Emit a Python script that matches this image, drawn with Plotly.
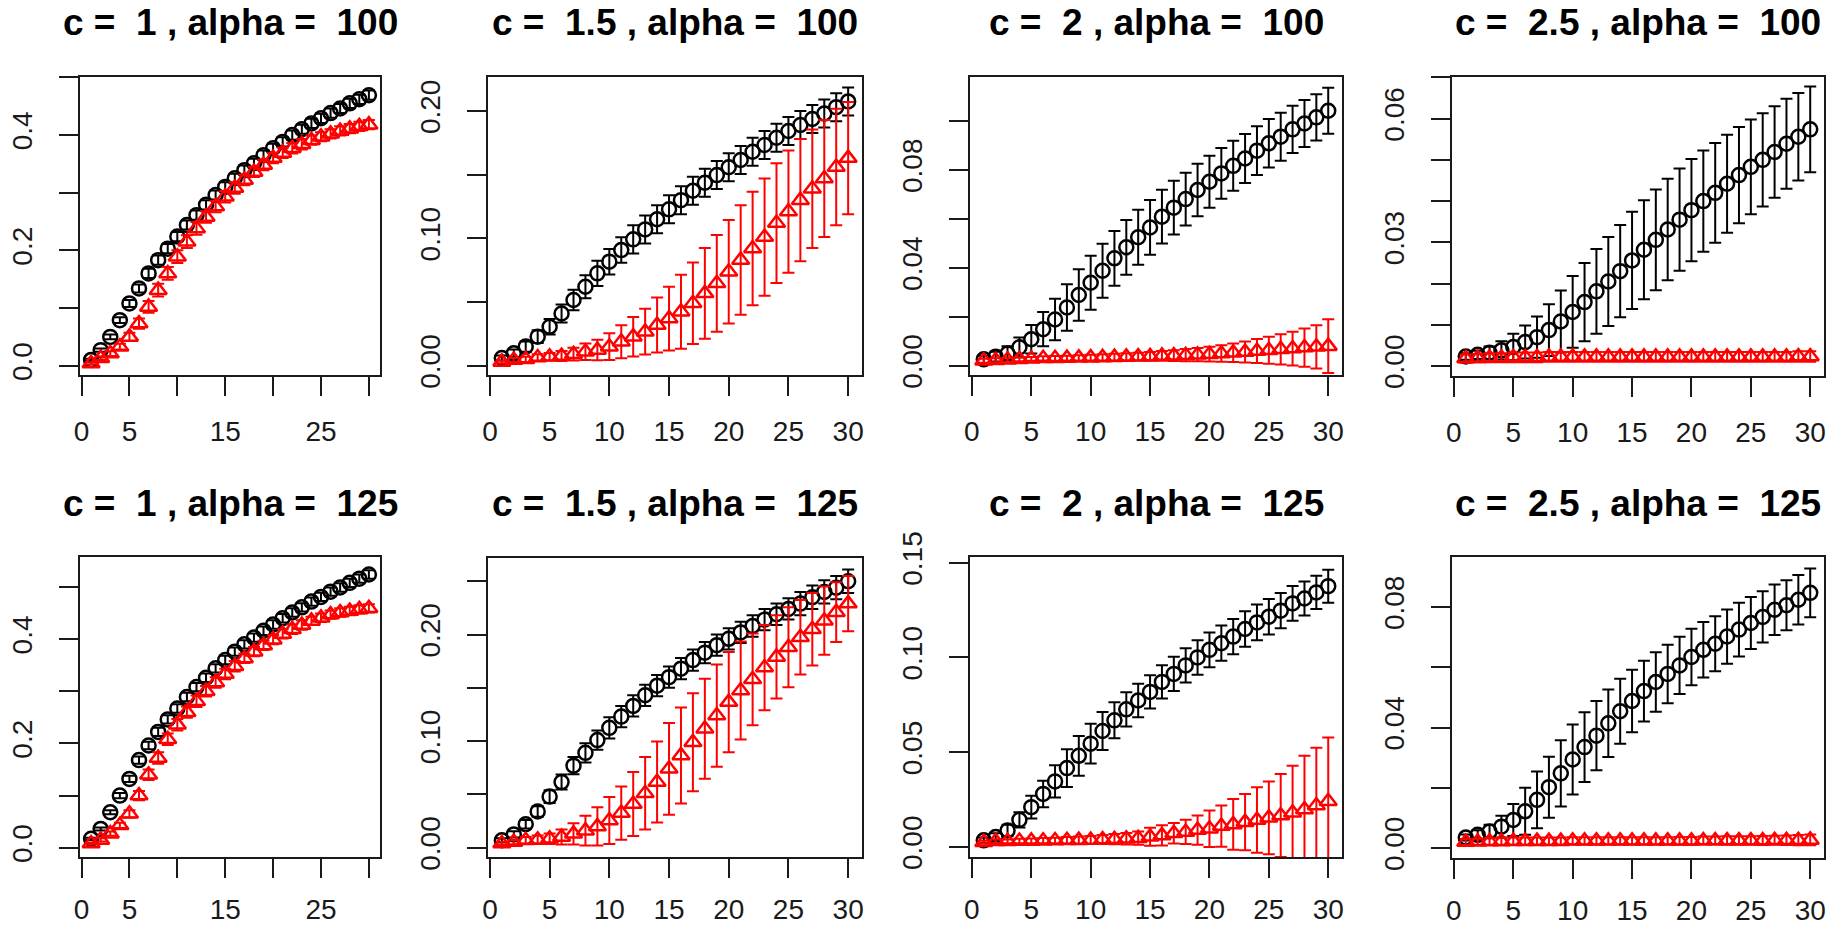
import plotly.graph_objects as go

# time steps shared by every panel
steps = [1, 2, 3, 4, 5, 6, 7, 8, 9, 10, 11, 12, 13, 14, 15,
         16, 17, 18, 19, 20, 21, 22, 23, 24, 25, 26, 27, 28, 29, 30]

c_labels = ["1", "1.5", "2", "2.5"]
alpha_labels = ["100", "125"]

# ---- alpha = 100 -------------------------------------------------------
black_c1_a100 = [0.010, 0.027, 0.050, 0.079, 0.108, 0.134, 0.160, 0.183, 0.203, 0.224,
                 0.244, 0.261, 0.279, 0.296, 0.310, 0.325, 0.339, 0.351, 0.365, 0.377,
                 0.388, 0.400, 0.410, 0.420, 0.429, 0.438, 0.446, 0.455, 0.462, 0.469]
black_se_c1_a100 = [0.002, 0.003, 0.004, 0.005, 0.006, 0.007, 0.008, 0.008, 0.008, 0.008,
                    0.008, 0.008, 0.008, 0.008, 0.008, 0.008, 0.008, 0.008, 0.008, 0.008,
                    0.008, 0.008, 0.008, 0.008, 0.008, 0.008, 0.008, 0.008, 0.008, 0.008]
red_c1_a100 = [0.004, 0.013, 0.021, 0.033, 0.050, 0.073, 0.102, 0.131, 0.160, 0.189,
               0.215, 0.238, 0.258, 0.276, 0.293, 0.308, 0.322, 0.336, 0.348, 0.360,
               0.369, 0.377, 0.384, 0.391, 0.397, 0.402, 0.407, 0.411, 0.415, 0.418]
red_se_c1_a100 = [0.002, 0.003, 0.004, 0.005, 0.007, 0.009, 0.010, 0.011, 0.011, 0.011,
                  0.011, 0.011, 0.010, 0.010, 0.010, 0.010, 0.009, 0.009, 0.009, 0.009,
                  0.009, 0.009, 0.009, 0.008, 0.008, 0.008, 0.008, 0.008, 0.008, 0.008]

black_c15_a100 = [0.0060, 0.0097, 0.0150, 0.0228, 0.0306, 0.0410, 0.0516, 0.0620, 0.0725, 0.0817,
                  0.0908, 0.0992, 0.1070, 0.1150, 0.1228, 0.1300, 0.1374, 0.1437, 0.1497, 0.1558,
                  0.1615, 0.1680, 0.1733, 0.1790, 0.1843, 0.1890, 0.1937, 0.1980, 0.2030, 0.2075]
black_se_c15_a100 = [0.002, 0.003, 0.004, 0.005, 0.006, 0.007, 0.008, 0.009, 0.010, 0.010,
                     0.010, 0.011, 0.011, 0.011, 0.011, 0.011, 0.011, 0.011, 0.011, 0.011,
                     0.011, 0.011, 0.011, 0.011, 0.011, 0.011, 0.011, 0.011, 0.011, 0.011]
red_c15_a100 = [0.0030, 0.0045, 0.0050, 0.0065, 0.0070, 0.0076, 0.0090, 0.0110, 0.0123, 0.0149,
                0.0188, 0.0228, 0.0267, 0.0320, 0.0370, 0.0424, 0.0490, 0.0568, 0.0647, 0.0738,
                0.0830, 0.0920, 0.1010, 0.1120, 0.1210, 0.1300, 0.1390, 0.1470, 0.1560, 0.1630]
red_se_c15_a100 = [0.0010, 0.0015, 0.0020, 0.0025, 0.0030, 0.0040, 0.0050, 0.0065, 0.0080, 0.0105,
                   0.0130, 0.0155, 0.0180, 0.0216, 0.0250, 0.0290, 0.0320, 0.0356, 0.0380, 0.0406,
                   0.0430, 0.0445, 0.0460, 0.0470, 0.0480, 0.0480, 0.0465, 0.0460, 0.0458, 0.0440]

black_c2_a100 = [0.0026, 0.0037, 0.0050, 0.0075, 0.0108, 0.0149, 0.0189, 0.0238, 0.0289, 0.0339,
                 0.0388, 0.0439, 0.0484, 0.0525, 0.0565, 0.0609, 0.0646, 0.0681, 0.0718, 0.0752,
                 0.0786, 0.0817, 0.0847, 0.0879, 0.0909, 0.0936, 0.0966, 0.0990, 0.1015, 0.1042]
black_se_c2_a100 = [0.0015, 0.0020, 0.0030, 0.0040, 0.0058, 0.0070, 0.0085, 0.0095, 0.0105, 0.0110,
                    0.0110, 0.0112, 0.0112, 0.0112, 0.0112, 0.0110, 0.0110, 0.0108, 0.0107, 0.0106,
                    0.0104, 0.0102, 0.0100, 0.0100, 0.0099, 0.0098, 0.0097, 0.0096, 0.0095, 0.0094]
red_c2_a100 = [0.0020, 0.0022, 0.0024, 0.0026, 0.0028, 0.0030, 0.0030, 0.0031, 0.0032, 0.0033,
               0.0034, 0.0035, 0.0036, 0.0037, 0.0038, 0.0040, 0.0041, 0.0043, 0.0045, 0.0047,
               0.0050, 0.0053, 0.0056, 0.0060, 0.0063, 0.0067, 0.0070, 0.0074, 0.0077, 0.0080]
red_se_c2_a100 = [0.0008, 0.0008, 0.0008, 0.0008, 0.0008, 0.0009, 0.0010, 0.0010, 0.0011, 0.0012,
                  0.0013, 0.0014, 0.0015, 0.0016, 0.0018, 0.0020, 0.0022, 0.0025, 0.0027, 0.0030,
                  0.0034, 0.0038, 0.0043, 0.0049, 0.0055, 0.0062, 0.0069, 0.0078, 0.0088, 0.0110]

black_c25_a100 = [0.0023, 0.0027, 0.0032, 0.0038, 0.0046, 0.0058, 0.0070, 0.0087, 0.0108, 0.0131,
                  0.0155, 0.0181, 0.0205, 0.0230, 0.0256, 0.0282, 0.0306, 0.0331, 0.0355, 0.0378,
                  0.0400, 0.0420, 0.0442, 0.0463, 0.0483, 0.0500, 0.0519, 0.0539, 0.0556, 0.0574]
black_se_c25_a100 = [0.0008, 0.0010, 0.0015, 0.0022, 0.0032, 0.0040, 0.0050, 0.0063, 0.0075, 0.0087,
                     0.0095, 0.0103, 0.0108, 0.0112, 0.0118, 0.0120, 0.0122, 0.0123, 0.0124, 0.0124,
                     0.0123, 0.0121, 0.0119, 0.0117, 0.0115, 0.0113, 0.0111, 0.0109, 0.0106, 0.0104]
red_c25_a100 = [0.0018, 0.0019, 0.0020, 0.0020, 0.0021, 0.0021, 0.0021, 0.0022, 0.0022, 0.0022,
                0.0022, 0.0022, 0.0022, 0.0022, 0.0022, 0.0022, 0.0022, 0.0022, 0.0022, 0.0022,
                0.0022, 0.0022, 0.0022, 0.0022, 0.0022, 0.0022, 0.0022, 0.0022, 0.0023, 0.0023]
red_se_c25_a100 = [0.0010, 0.0010, 0.0011, 0.0011, 0.0012, 0.0012, 0.0012, 0.0012, 0.0012, 0.0012,
                   0.0012, 0.0012, 0.0012, 0.0012, 0.0012, 0.0012, 0.0012, 0.0012, 0.0012, 0.0012,
                   0.0012, 0.0012, 0.0012, 0.0012, 0.0012, 0.0012, 0.0012, 0.0012, 0.0013, 0.0013]

# ---- alpha = 125 -------------------------------------------------------
black_c1_a125 = [0.017, 0.036, 0.068, 0.100, 0.132, 0.168, 0.196, 0.222, 0.246, 0.267,
                 0.289, 0.308, 0.326, 0.344, 0.360, 0.376, 0.390, 0.403, 0.416, 0.428,
                 0.440, 0.451, 0.461, 0.472, 0.481, 0.491, 0.499, 0.508, 0.516, 0.524]
black_se_c1_a125 = [0.002, 0.003, 0.004, 0.005, 0.006, 0.007, 0.007, 0.008, 0.008, 0.008,
                    0.008, 0.008, 0.008, 0.008, 0.008, 0.008, 0.008, 0.008, 0.008, 0.008,
                    0.008, 0.008, 0.008, 0.008, 0.008, 0.008, 0.008, 0.008, 0.008, 0.008]
red_c1_a125 = [0.008, 0.015, 0.027, 0.043, 0.065, 0.100, 0.140, 0.172, 0.208, 0.236,
               0.260, 0.281, 0.300, 0.317, 0.333, 0.348, 0.363, 0.376, 0.388, 0.399,
               0.410, 0.419, 0.427, 0.435, 0.441, 0.447, 0.451, 0.454, 0.457, 0.459]
red_se_c1_a125 = [0.002, 0.003, 0.004, 0.005, 0.007, 0.009, 0.010, 0.011, 0.011, 0.011,
                  0.011, 0.011, 0.010, 0.010, 0.010, 0.010, 0.009, 0.009, 0.009, 0.009,
                  0.009, 0.009, 0.009, 0.008, 0.008, 0.008, 0.008, 0.008, 0.008, 0.008]

black_c15_a125 = [0.0070, 0.0125, 0.0220, 0.0340, 0.0480, 0.0616, 0.0770, 0.0890, 0.1010, 0.1125,
                  0.1230, 0.1330, 0.1430, 0.1520, 0.1600, 0.1680, 0.1760, 0.1830, 0.1900, 0.1960,
                  0.2020, 0.2080, 0.2140, 0.2190, 0.2240, 0.2290, 0.2350, 0.2400, 0.2440, 0.2500]
black_se_c15_a125 = [0.002, 0.003, 0.004, 0.005, 0.006, 0.007, 0.008, 0.009, 0.009, 0.010,
                     0.010, 0.010, 0.010, 0.010, 0.010, 0.010, 0.010, 0.010, 0.010, 0.010,
                     0.010, 0.010, 0.010, 0.010, 0.010, 0.011, 0.011, 0.011, 0.011, 0.011]
red_c15_a125 = [0.0040, 0.0053, 0.0070, 0.0075, 0.0084, 0.0100, 0.0130, 0.0160, 0.0200, 0.0256,
                0.0325, 0.0410, 0.0510, 0.0616, 0.0740, 0.0866, 0.0990, 0.1116, 0.1240, 0.1366,
                0.1475, 0.1580, 0.1690, 0.1790, 0.1880, 0.1975, 0.2050, 0.2130, 0.2210, 0.2290]
red_se_c15_a125 = [0.0015, 0.0020, 0.0030, 0.0040, 0.0050, 0.0070, 0.0100, 0.0140, 0.0180, 0.0220,
                   0.0250, 0.0300, 0.0340, 0.0380, 0.0430, 0.0450, 0.0460, 0.0470, 0.0480, 0.0470,
                   0.0460, 0.0430, 0.0400, 0.0390, 0.0375, 0.0350, 0.0340, 0.0320, 0.0280, 0.0260]

black_c2_a125 = [0.0035, 0.0052, 0.0087, 0.0143, 0.0210, 0.0280, 0.0346, 0.0416, 0.0481, 0.0545,
                 0.0612, 0.0668, 0.0726, 0.0773, 0.0818, 0.0871, 0.0913, 0.0958, 0.1000, 0.1040,
                 0.1075, 0.1110, 0.1150, 0.1185, 0.1215, 0.1247, 0.1285, 0.1311, 0.1343, 0.1376]
black_se_c2_a125 = [0.0015, 0.0020, 0.0030, 0.0040, 0.0060, 0.0070, 0.0085, 0.0100, 0.0105, 0.0105,
                    0.0100, 0.0095, 0.0090, 0.0088, 0.0088, 0.0088, 0.0090, 0.0090, 0.0091, 0.0092,
                    0.0093, 0.0093, 0.0094, 0.0094, 0.0094, 0.0093, 0.0092, 0.0090, 0.0088, 0.0087]
red_c2_a125 = [0.0025, 0.0030, 0.0030, 0.0031, 0.0032, 0.0033, 0.0034, 0.0035, 0.0036, 0.0037,
               0.0039, 0.0041, 0.0043, 0.0046, 0.0054, 0.0061, 0.0072, 0.0079, 0.0089, 0.0096,
               0.0110, 0.0119, 0.0131, 0.0142, 0.0154, 0.0166, 0.0180, 0.0198, 0.0219, 0.0241]
red_se_c2_a125 = [0.0008, 0.0010, 0.0010, 0.0012, 0.0013, 0.0014, 0.0015, 0.0017, 0.0019, 0.0021,
                  0.0024, 0.0027, 0.0030, 0.0035, 0.0047, 0.0053, 0.0054, 0.0064, 0.0077, 0.0096,
                  0.0109, 0.0134, 0.0149, 0.0173, 0.0192, 0.0219, 0.0248, 0.0283, 0.0305, 0.0336]

black_c25_a125 = [0.0035, 0.0044, 0.0055, 0.0071, 0.0093, 0.0122, 0.0160, 0.0202, 0.0248, 0.0294,
                  0.0335, 0.0373, 0.0414, 0.0454, 0.0488, 0.0521, 0.0551, 0.0578, 0.0606, 0.0634,
                  0.0658, 0.0678, 0.0702, 0.0725, 0.0747, 0.0767, 0.0791, 0.0806, 0.0824, 0.0847]
black_se_c25_a125 = [0.0010, 0.0015, 0.0022, 0.0036, 0.0053, 0.0078, 0.0094, 0.0101, 0.0110, 0.0116,
                     0.0116, 0.0115, 0.0112, 0.0108, 0.0104, 0.0101, 0.0099, 0.0097, 0.0095, 0.0094,
                     0.0092, 0.0091, 0.0090, 0.0089, 0.0086, 0.0085, 0.0084, 0.0083, 0.0082, 0.0081]
red_c25_a125 = [0.0020, 0.0021, 0.0022, 0.0022, 0.0023, 0.0023, 0.0023, 0.0023, 0.0023, 0.0024,
                0.0024, 0.0024, 0.0024, 0.0024, 0.0024, 0.0024, 0.0024, 0.0024, 0.0024, 0.0024,
                0.0025, 0.0025, 0.0025, 0.0025, 0.0025, 0.0025, 0.0026, 0.0026, 0.0026, 0.0027]
red_se_c25_a125 = [0.0010, 0.0010, 0.0011, 0.0011, 0.0012, 0.0012, 0.0012, 0.0012, 0.0012, 0.0012,
                   0.0012, 0.0012, 0.0012, 0.0012, 0.0012, 0.0012, 0.0012, 0.0012, 0.0013, 0.0013,
                   0.0013, 0.0013, 0.0014, 0.0014, 0.0014, 0.0015, 0.0015, 0.0016, 0.0017, 0.0018]

# x tick labels (the narrow left-hand panels drop the labels that would collide)
x_ticks = [0, 5, 10, 15, 20, 25, 30]
x_text_full = ["0", "5", "10", "15", "20", "25", "30"]
x_text_sparse = ["0", "5", "", "15", "", "25", ""]

# y ticks per panel: (tick values, tick labels, axis range)
y_axes = [
    ([0, 0.1, 0.2, 0.3, 0.4, 0.5], ["0.0", "", "0.2", "", "0.4", ""], [-0.0161, 0.5006]),
    ([0, 0.05, 0.10, 0.15, 0.20], ["0.00", "", "0.10", "", "0.20"], [-0.0073, 0.2267]),
    ([0, 0.02, 0.04, 0.06, 0.08, 0.10], ["0.00", "", "0.04", "", "0.08", ""], [-0.0038, 0.1180]),
    ([0, 0.01, 0.02, 0.03, 0.04, 0.05, 0.06, 0.07], ["0.00", "", "", "0.03", "", "", "0.06", ""], [-0.00243, 0.0701]),
    ([0, 0.1, 0.2, 0.3, 0.4, 0.5], ["0.0", "", "0.2", "", "0.4", ""], [-0.0178, 0.5575]),
    ([0, 0.05, 0.10, 0.15, 0.20, 0.25], ["0.00", "", "0.10", "", "0.20", ""], [-0.0087, 0.2718]),
    ([0, 0.05, 0.10, 0.15], ["0.00", "0.05", "0.10", "0.15"], [-0.0053, 0.1530]),
    ([0, 0.02, 0.04, 0.06, 0.08], ["0.00", "", "0.04", "", "0.08"], [-0.0033, 0.0966]),
]

panels = [
    (black_c1_a100, black_se_c1_a100, red_c1_a100, red_se_c1_a100),
    (black_c15_a100, black_se_c15_a100, red_c15_a100, red_se_c15_a100),
    (black_c2_a100, black_se_c2_a100, red_c2_a100, red_se_c2_a100),
    (black_c25_a100, black_se_c25_a100, red_c25_a100, red_se_c25_a100),
    (black_c1_a125, black_se_c1_a125, red_c1_a125, red_se_c1_a125),
    (black_c15_a125, black_se_c15_a125, red_c15_a125, red_se_c15_a125),
    (black_c2_a125, black_se_c2_a125, red_c2_a125, red_se_c2_a125),
    (black_c25_a125, black_se_c25_a125, red_c25_a125, red_se_c25_a125),
]

# plot boxes in pixels: (left, right, top, bottom)
W, H = 1842, 928
boxes = [
    (80, 380, 77, 375), (488, 862, 77, 375), (970, 1342, 77, 375), (1452, 1824, 77, 376),
    (80, 380, 557, 857), (488, 862, 558, 857), (970, 1342, 557, 857), (1452, 1824, 557, 858),
]

FONT = "Liberation Sans, Arial, sans-serif"
INK = "#1a1a1a"

fig = go.Figure()
layout = dict(
    width=W, height=H,
    margin=dict(l=0, r=0, t=0, b=0, autoexpand=False),
    paper_bgcolor="white", plot_bgcolor="white",
    showlegend=False,
    annotations=[],
)

for i, (blk, blk_se, red, red_se) in enumerate(panels):
    n = "" if i == 0 else str(i + 1)
    left, right, top, bottom = boxes[i]
    yvals, ytext, yrange = y_axes[i]
    narrow = (i % 4 == 0)

    fig.add_trace(go.Scatter(
        x=steps, y=blk, mode="markers", xaxis="x" + n, yaxis="y" + n,
        marker=dict(symbol="circle-open", size=14, color="black", line=dict(width=2.5)),
        error_y=dict(type="data", array=blk_se, color="black", thickness=2, width=6),
    ))
    fig.add_trace(go.Scatter(
        x=steps, y=red, mode="markers", xaxis="x" + n, yaxis="y" + n,
        marker=dict(symbol="triangle-up-open", size=15, color="#ff0000", line=dict(width=2.5)),
        error_y=dict(type="data", array=red_se, color="#ff0000", thickness=2, width=6),
    ))

    common = dict(
        showgrid=False, zeroline=False, showline=True, mirror=True, automargin=False,
        linecolor=INK, linewidth=2, ticks="outside", ticklen=19, tickwidth=2,
        tickcolor=INK, tickfont=dict(family=FONT, size=28, color=INK),
    )
    layout["xaxis" + n] = dict(
        common, domain=[left / W, right / W], range=[-0.16, 31.16],
        tickmode="array", tickvals=x_ticks,
        ticktext=x_text_sparse if narrow else x_text_full,
        anchor="y" + n, ticklabelstandoff=11 if i < 4 else 7,
    )
    layout["yaxis" + n] = dict(
        common, domain=[1 - bottom / H, 1 - top / H], range=yrange,
        tickmode="array", tickvals=yvals, ticktext=ytext, tickangle=-90,
        anchor="x" + n, ticklabelstandoff=16,
    )

    c = c_labels[i % 4]
    a = alpha_labels[i // 4]
    title_y = 22.7 if i < 4 else 503
    layout["annotations"].append(dict(
        text=f"c = \u00a0{c} , alpha = \u00a0{a}",
        x=(left + right) / 2 / W, y=1 - title_y / H,
        xref="paper", yref="paper", xanchor="center", yanchor="middle",
        showarrow=False,
        font=dict(family=FONT, size=37, color="black", weight="bold"),
    ))

fig.update_layout(**layout)
fig.write_html("out.html")
